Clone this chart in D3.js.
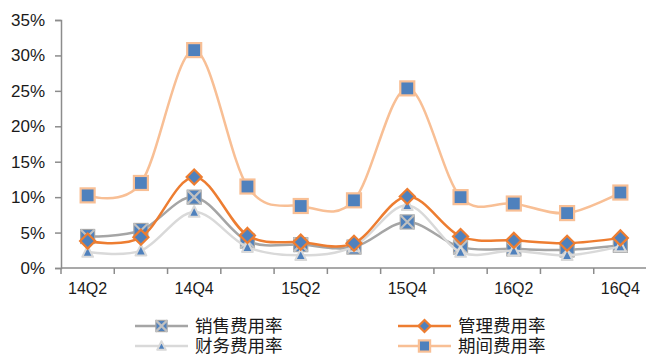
<!DOCTYPE html>
<html>
<head>
<meta charset="utf-8">
<script src="https://cdn.jsdelivr.net/npm/d3@7/dist/d3.min.js"></script>
<style>
  html, body { margin: 0; padding: 0; background: #fff; }
  svg { display: block; }
</style>
</head>
<body>
<svg id="chart" width="646" height="354"></svg>
<script>
// Quarterly expense ratios (%)
const quarters = ["14Q2","14Q3","14Q4","15Q1","15Q2","15Q3","15Q4","16Q1","16Q2","16Q3","16Q4"];
const salesRate   = [4.45, 5.3, 10.0, 3.8, 3.3, 2.95, 6.5, 2.95, 2.7, 2.55, 3.2];
const adminRate   = [3.8, 4.35, 12.85, 4.6, 3.65, 3.5, 10.1, 4.45, 3.9, 3.5, 4.25];
const financeRate = [2.25, 2.45, 7.9, 2.95, 1.8, 3.05, 8.85, 2.25, 2.45, 1.8, 3.05];
const periodRate  = [10.25, 12.0, 30.75, 11.5, 8.75, 9.55, 25.35, 10.0, 9.1, 7.75, 10.65];
const yTicks = [0, 5, 10, 15, 20, 25, 30, 35];
const xLabelQuarters = ["14Q2","14Q4","15Q2","15Q4","16Q2","16Q4"];

const seriesNames = ["销售费用率", "管理费用率", "财务费用率", "期间费用率"];

const blue = "#4f81bd";
const series = [
  { name: seriesNames[0], values: salesRate,   line: "#a5a5a5", marker: "xsquare" },
  { name: seriesNames[2], values: financeRate, line: "#d9d9d9", marker: "triangle" },
  { name: seriesNames[1], values: adminRate,   line: "#ed7d31", marker: "diamond" },
  { name: seriesNames[3], values: periodRate,  line: "#f8bf95", marker: "square" }
];

const svg = d3.select("#chart");
const plotLeft = 61, plotRight = 647, plotTop = 20, plotBottom = 268;

const x = d3.scaleBand().domain(quarters).range([plotLeft, plotRight]);
const y = d3.scaleLinear().domain([0, 35]).range([plotBottom, plotTop]);

// Y axis
const yAxis = svg.append("g")
  .attr("transform", `translate(${plotLeft},0)`)
  .call(d3.axisLeft(y).tickValues(yTicks).tickSize(6).tickPadding(10)
        .tickFormat(d => d + "%"));
yAxis.select(".domain").attr("stroke", "#8c8c8c").attr("stroke-width", 1.5);
yAxis.selectAll(".tick line").attr("stroke", "#8c8c8c").attr("stroke-width", 1.5);
yAxis.selectAll(".tick text")
  .attr("font-family", "Liberation Sans, Arial, sans-serif")
  .attr("font-size", 17).attr("fill", "#1a1a1a");

// X axis: band boundaries carry the tick marks
const xAxisG = svg.append("g").attr("transform", `translate(0,${plotBottom})`);
xAxisG.append("line").attr("x1", plotLeft).attr("x2", plotRight)
  .attr("stroke", "#8c8c8c").attr("stroke-width", 1.5);
xAxisG.selectAll("line.tk").data(quarters).enter().append("line")
  .attr("class", "tk")
  .attr("x1", d => x(d)).attr("x2", d => x(d))
  .attr("y1", 0).attr("y2", 6)
  .attr("stroke", "#8c8c8c").attr("stroke-width", 1.5);
xAxisG.selectAll("text").data(xLabelQuarters).enter().append("text")
  .attr("x", d => x(d) + x.bandwidth() / 2)
  .attr("y", 26)
  .attr("text-anchor", "middle")
  .attr("font-family", "Liberation Sans, Arial, sans-serif")
  .attr("font-size", 16).attr("fill", "#1a1a1a")
  .text(d => d);

const cx = i => x(quarters[i]) + x.bandwidth() / 2;

function drawMarker(g, type, px, py, s) {
  if (type === "xsquare") {
    const h = s * 7;
    g.append("rect").attr("x", px - h).attr("y", py - h).attr("width", 2 * h).attr("height", 2 * h)
      .attr("fill", blue).attr("stroke", "#a5a5a5").attr("stroke-width", 1.2);
    g.append("path").attr("d", `M${px - h},${py - h}L${px + h},${py + h}M${px - h},${py + h}L${px + h},${py - h}`)
      .attr("stroke", "#c0c0c0").attr("stroke-width", 2.2);
  } else if (type === "triangle") {
    const h = s * 6;
    g.append("path")
      .attr("d", `M${px},${py - h}L${px + h * 0.9},${py + h * 0.8}L${px - h * 0.9},${py + h * 0.8}Z`)
      .attr("fill", blue).attr("stroke", "#d9d9d9").attr("stroke-width", 2)
      .attr("stroke-linejoin", "round");
  } else if (type === "diamond") {
    const h = s * 7.5;
    g.append("path")
      .attr("d", `M${px},${py - h}L${px + h},${py}L${px},${py + h}L${px - h},${py}Z`)
      .attr("fill", blue).attr("stroke", "#ed7d31").attr("stroke-width", 2.2);
  } else {
    const h = s * 7;
    g.append("rect").attr("x", px - h).attr("y", py - h).attr("width", 2 * h).attr("height", 2 * h)
      .attr("fill", blue).attr("stroke", "#f8bf95").attr("stroke-width", 2.2);
  }
}

const line = d3.line()
  .x((d, i) => cx(i))
  .y(d => y(d))
  .curve(d3.curveCardinal.tension(0));

series.forEach(s => {
  const g = svg.append("g");
  g.append("path").datum(s.values)
    .attr("d", line)
    .attr("fill", "none")
    .attr("stroke", s.line)
    .attr("stroke-width", 2.5);
  s.values.forEach((v, i) => drawMarker(g, s.marker, cx(i), y(v), 1));
});

// Legend: two columns, two rows
const legendItems = [
  { s: series[0], lx: 135, ly: 326 },
  { s: series[2], lx: 398, ly: 326 },
  { s: series[1], lx: 135, ly: 346 },
  { s: series[3], lx: 398, ly: 346 }
];
const lg = svg.append("g");
legendItems.forEach(it => {
  const g = lg.append("g");
  g.append("line").attr("x1", it.lx).attr("x2", it.lx + 53)
    .attr("y1", it.ly).attr("y2", it.ly)
    .attr("stroke", it.s.line).attr("stroke-width", 2.5);
  drawMarker(g, it.s.marker, it.lx + 26.5, it.ly, 0.8);
  g.append("text").attr("x", it.lx + 60).attr("y", it.ly)
    .attr("dy", "0.36em")
    .attr("font-family", "Noto Sans CJK SC, sans-serif")
    .attr("font-size", 17.5).attr("fill", "#1a1a1a")
    .text(it.s.name);
});
</script>
</body>
</html>
